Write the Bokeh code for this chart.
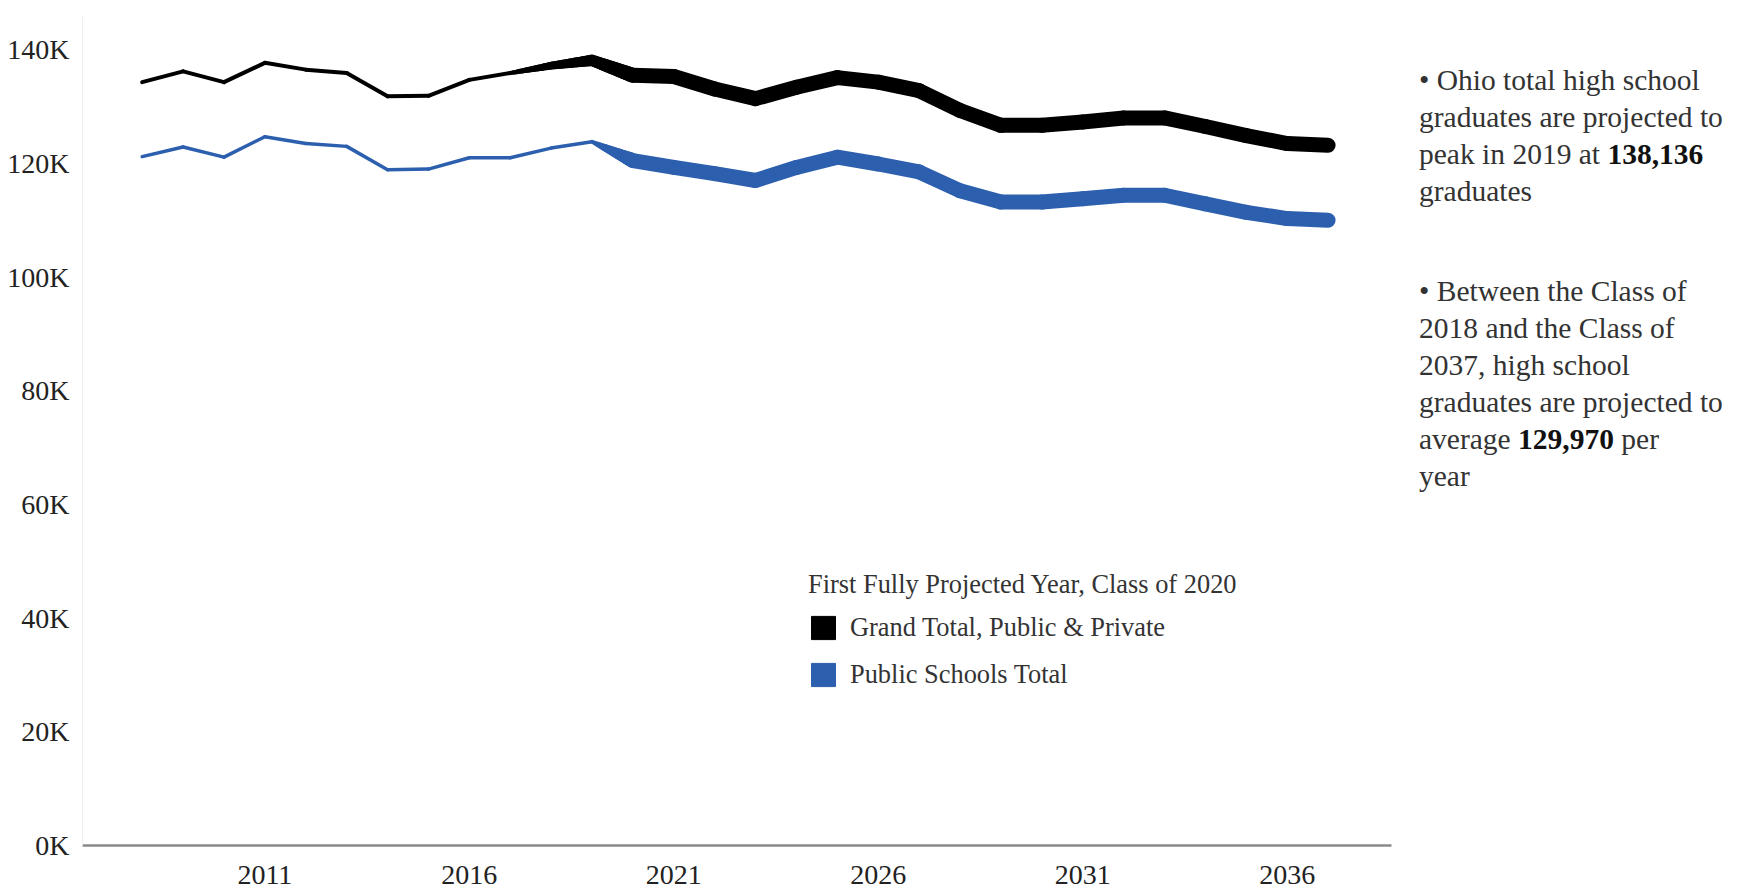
from bokeh.plotting import figure
from bokeh.models import FixedTicker, Legend, LegendItem, Div, Range1d
from bokeh.layouts import row
from bokeh.embed import file_html
from bokeh.resources import INLINE

# ---------------- data ----------------
years = list(range(2008, 2038))
# Ohio high school graduates (thousands)
grand_total_k = [134.3, 136.2, 134.3, 137.7, 136.5, 135.9, 131.8, 131.9, 134.7, 135.9,
                 137.2, 138.136, 135.5, 135.3, 133.1, 131.4, 133.4, 135.1, 134.3, 132.8,
                 129.3, 126.7, 126.7, 127.3, 128.0, 128.0, 126.5, 124.9, 123.5, 123.2]
public_total_k = [121.2, 122.9, 121.1, 124.7, 123.5, 123.0, 118.9, 119.0, 121.0, 121.0,
                  122.7, 123.8, 120.5, 119.3, 118.2, 117.0, 119.3, 121.1, 119.9, 118.5,
                  115.2, 113.2, 113.2, 113.8, 114.4, 114.4, 112.9, 111.4, 110.3, 110.0]
series_names = ["Grand Total, Public & Private", "Public Schools Total"]
first_projected_year = 2020
legend_title = "First Fully Projected Year, Class of 2020"

y_ticks = [0, 20000, 40000, 60000, 80000, 100000, 120000, 140000]
y_tick_labels = ["0K", "20K", "40K", "60K", "80K", "100K", "120K", "140K"]
x_ticks = [2011, 2016, 2021, 2026, 2031, 2036]

grand_total = [v * 1000 for v in grand_total_k]
public_total = [v * 1000 for v in public_total_k]

# ---------------- styles ----------------
FONT = "Liberation Serif"
BLACK = "#000000"
BLUE = "#2c5fae"
THICK = 15
series_style = [
    dict(color=BLACK, thin=4.0, ramp_start=2017),
    dict(color=BLUE, thin=3.5, ramp_start=2019),
]


def width_at(year, thin, ramp_start):
    if year >= first_projected_year:
        return THICK
    if year <= ramp_start:
        return thin
    frac = (year - ramp_start) / (first_projected_year - ramp_start)
    return thin + frac * (THICK - thin)


p = figure(width=1408, height=890, output_backend="svg", toolbar_location=None,
           x_range=Range1d(2006.54, 2038.55), y_range=Range1d(0, 145850),
           min_border_left=82, min_border_right=17, min_border_top=16, min_border_bottom=45)
p.outline_line_color = None
p.xgrid.visible = False
p.ygrid.visible = False
p.background_fill_color = "white"

nan = float("nan")
legend_renderers = []
for vals, st in zip([grand_total, public_total], series_style):
    x0, y0, x1, y1, lw = [], [], [], [], []
    for i in range(len(years) - 1):
        w0 = width_at(years[i], st["thin"], st["ramp_start"])
        w1 = width_at(years[i + 1], st["thin"], st["ramp_start"])
        n = 1 if w0 == w1 else 16
        for k in range(n):
            t0, t1 = k / n, (k + 1) / n
            x0.append(years[i] + (years[i + 1] - years[i]) * t0)
            x1.append(years[i] + (years[i + 1] - years[i]) * t1)
            y0.append(vals[i] + (vals[i + 1] - vals[i]) * t0)
            y1.append(vals[i] + (vals[i + 1] - vals[i]) * t1)
            lw.append(w0 + (w1 - w0) * (t0 + t1) / 2)
    p.segment(x0=x0, y0=y0, x1=x1, y1=y1, line_width=lw, line_color=st["color"],
              line_cap="round")
    # legend swatch only (no visible mark in the plot)
    r = p.quad(left=[nan], right=[nan], top=[nan], bottom=[nan], fill_color=st["color"],
               line_color=st["color"])
    legend_renderers.append(r)

# axes
p.yaxis.ticker = FixedTicker(ticks=y_ticks)
p.yaxis.major_label_overrides = {t: l for t, l in zip(y_ticks, y_tick_labels)}
p.yaxis.axis_line_color = "#f0f0f0"
p.yaxis.major_tick_line_color = None
p.yaxis.minor_tick_line_color = None
p.yaxis.major_tick_out = 0
p.yaxis.major_tick_in = 0
p.yaxis.major_label_standoff = 13
p.yaxis.major_label_text_font = FONT
p.yaxis.major_label_text_font_size = "28px"
p.yaxis.major_label_text_color = "#222222"

p.xaxis.ticker = FixedTicker(ticks=x_ticks)
p.xaxis.axis_line_color = "#8a8a8a"
p.xaxis.axis_line_width = 2.5
p.xaxis.major_tick_line_color = None
p.xaxis.minor_tick_line_color = None
p.xaxis.major_tick_out = 0
p.xaxis.major_tick_in = 0
p.xaxis.major_label_standoff = 20
p.xaxis.major_label_text_font = FONT
p.xaxis.major_label_text_font_size = "28px"
p.xaxis.major_label_text_color = "#222222"

legend = Legend(items=[LegendItem(label=n, renderers=[r]) for n, r in zip(series_names, legend_renderers)],
                location=(726, 155), title=legend_title)
legend.padding = 0
legend.margin = 0
legend.spacing = 16
legend.glyph_width = 30
legend.glyph_height = 29
legend.label_height = 29
legend.label_standoff = 12
legend.label_text_font = FONT
legend.label_text_font_size = "26.4px"
legend.label_text_color = "#333333"
legend.title_text_font = FONT
legend.title_text_font_size = "26.4px"
legend.title_text_font_style = "normal"
legend.title_text_color = "#333333"
legend.title_standoff = 12
legend.border_line_color = None
legend.background_fill_alpha = 0
p.add_layout(legend)

html_text = (
    '<div style="font-family:\'Liberation Serif\'; font-size:29.5px; line-height:37px; '
    'color:#333333; padding-left:11px; margin-top:62px; white-space:nowrap;">'
    '&#8226; Ohio total high school<br>graduates are projected to<br>'
    'peak in 2019 at <b style="color:#111">138,136</b><br>graduates'
    '<div style="height:63px"></div>'
    '&#8226; Between the Class of<br>2018 and the Class of<br>2037, high school<br>'
    'graduates are projected to<br>average <b style="color:#111">129,970</b> per<br>year'
    '</div>'
)
div = Div(text=html_text, width=333, height=600, margin=0)

layout = row(p, div)
open("out.html", "w").write(file_html(layout, INLINE))
